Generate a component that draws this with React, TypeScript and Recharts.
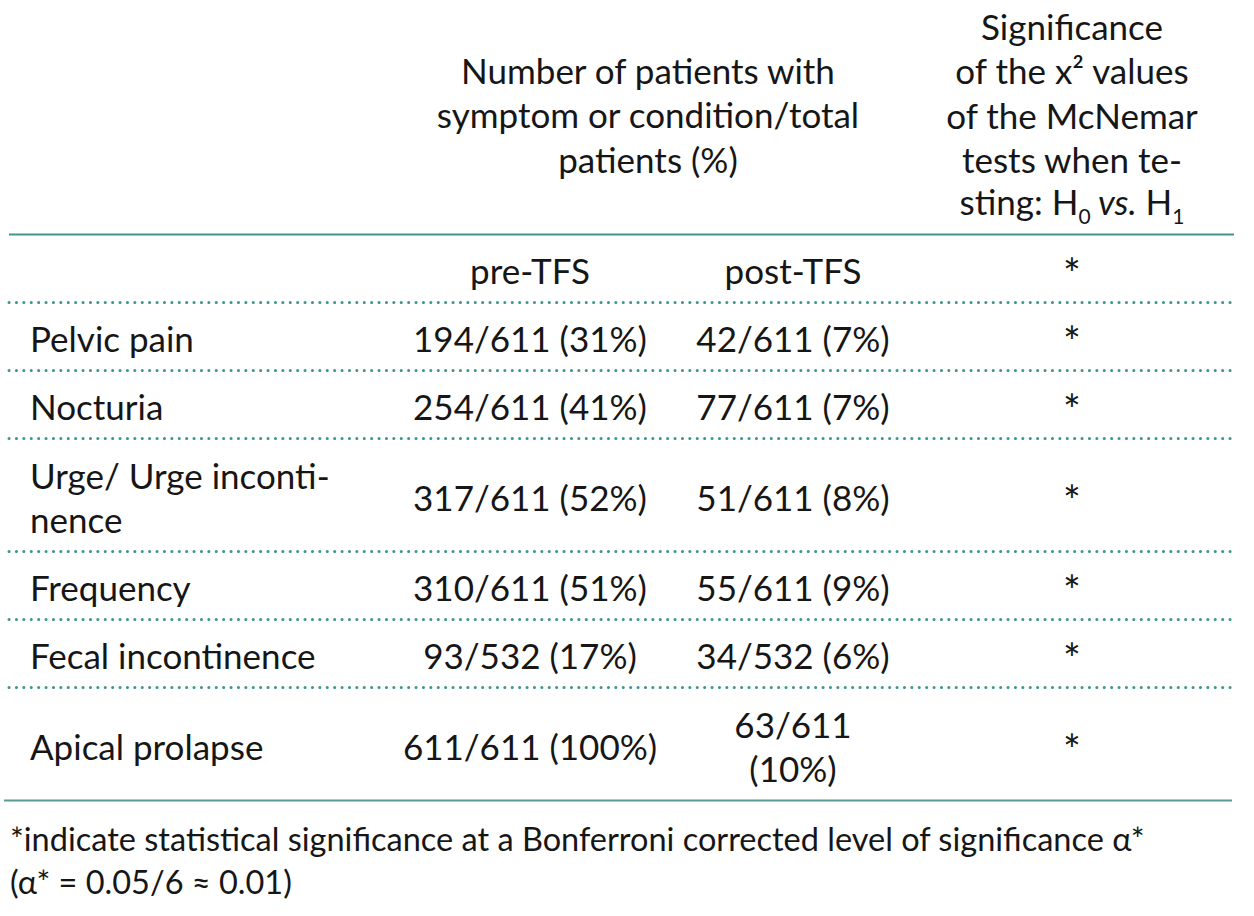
import { Surface, Layer, Text } from 'recharts'

// table content, as printed
const symptoms = [
  ['Pelvic pain'],
  ['Nocturia'],
  ['Urge/ Urge inconti-', 'nence'],
  ['Frequency'],
  ['Fecal incontinence'],
  ['Apical prolapse'],
]
const preCounts = [194, 254, 317, 310, 93, 611]
const postCounts = [42, 77, 51, 55, 34, 63]
const totals = [611, 611, 611, 611, 532, 611]
const prePercents = [31, 41, 52, 51, 17, 100]
const postPercents = [7, 7, 8, 9, 6, 10]
const significant = [true, true, true, true, true, true]

const groupHeader = ['Number of patients with', 'symptom or condition/total', 'patients (%)']
const sigHeader = ['Significance', 'of the x\u00b2 values', 'of the McNemar', 'tests when te-']
const periods = ['pre-TFS', 'post-TFS']
const footnotes = [
  '*indicate statistical significance at a Bonferroni corrected level of significance \u03b1*',
  '(\u03b1* = 0.05/6 \u2248 0.01)',
]

const W = 1254
const H = 916
const FONT = 'Lato, "Noto Sans", sans-serif'
const FS = 35
const LINE = 44.5
const TEXT = '#161616'
const TEAL = '#3f978b'

const COL_LABEL = 30
const COL_PRE = 530
const COL_POST = 793
const COL_SIG = 1072
const COL_GROUP = 648

const HEADER_BOTTOM = 234.5
const ROW_PAD = 23
const ROW_LINE = 45

type LinesProps = {
  x: number
  cy: number
  lines: string[]
  anchor?: 'start' | 'middle'
  size?: number
  lineH?: number
}

function Lines({ x, cy, lines, anchor = 'middle', size = FS, lineH = LINE }: LinesProps) {
  const top = cy - ((lines.length - 1) * lineH) / 2
  return (
    <Layer>
      {lines.map((l, i) => (
        <Text
          key={i}
          x={x}
          y={top + i * lineH}
          textAnchor={anchor}
          verticalAnchor="middle"
          fontFamily={FONT}
          fontSize={size}
          fill={TEXT}
        >
          {l}
        </Text>
      ))}
    </Layer>
  )
}

function postLines(i: number) {
  const a = `${postCounts[i]}/${totals[i]}`
  const b = `(${postPercents[i]}%)`
  // the last cell wraps in the original layout
  return postPercents[i] >= 10 ? [a, b] : [`${a} ${b}`]
}

export default function App() {
  // row boundaries from line counts
  const rows: { top: number; bottom: number }[] = []
  let y = HEADER_BOTTOM
  const periodRow = { top: y, bottom: y + ROW_PAD + ROW_LINE }
  y = periodRow.bottom
  symptoms.forEach((s, i) => {
    const n = Math.max(s.length, postLines(i).length)
    const h = ROW_PAD + ROW_LINE * n
    rows.push({ top: y, bottom: y + h })
    y += h
  })
  const tableBottom = y
  const off = 3.5
  const star = 42

  return (
    <div style={{ position: 'absolute', left: 0, top: 0, width: W, height: H, background: '#fff' }}>
      <Surface width={W} height={H}>
        {/* header */}
        <Lines x={COL_GROUP} cy={116} lines={groupHeader} />
        <Lines x={COL_SIG} cy={94} lines={sigHeader} />
        <text x={COL_SIG} y={203 + FS * 0.355} textAnchor="middle" fontFamily={FONT} fontSize={FS} fill={TEXT}>
          sting: H
          <tspan fontSize={21} dy={9}>0</tspan>
          <tspan dy={-9} fontStyle="italic"> vs.</tspan>
          <tspan> H</tspan>
          <tspan fontSize={21} dy={9}>1</tspan>
        </text>
        <line x1={9} x2={1234} y1={HEADER_BOTTOM} y2={HEADER_BOTTOM} stroke={TEAL} strokeWidth={2} />

        {/* period row */}
        <Lines x={COL_PRE} cy={(periodRow.top + periodRow.bottom) / 2 + off} lines={[periods[0]]} />
        <Lines x={COL_POST} cy={(periodRow.top + periodRow.bottom) / 2 + off} lines={[periods[1]]} />
        <Lines x={COL_SIG} cy={(periodRow.top + periodRow.bottom) / 2 + 6} lines={['*']} size={star} />

        {rows.map((r, i) => {
          const cy = (r.top + r.bottom) / 2 + off
          return (
            <Layer key={i}>
              <line
                x1={9}
                x2={1234}
                y1={r.top}
                y2={r.top}
                stroke={TEAL}
                strokeWidth={3}
                strokeLinecap="round"
                strokeDasharray="0.1 7.3"
              />
              <Lines x={COL_LABEL} cy={cy} lines={symptoms[i]} anchor="start" />
              <Lines x={COL_PRE} cy={cy} lines={[`${preCounts[i]}/${totals[i]} (${prePercents[i]}%)`]} />
              <Lines x={COL_POST} cy={cy} lines={postLines(i)} />
              {significant[i] && <Lines x={COL_SIG} cy={cy + 2.5} lines={['*']} size={star} />}
            </Layer>
          )
        })}
        <line x1={4} x2={1232} y1={tableBottom} y2={tableBottom} stroke="#5a9a94" strokeWidth={2} />

        {/* footnote */}
        <Lines x={10} cy={861} lines={footnotes} anchor="start" size={32.5} lineH={43} />
      </Surface>
    </div>
  )
}
